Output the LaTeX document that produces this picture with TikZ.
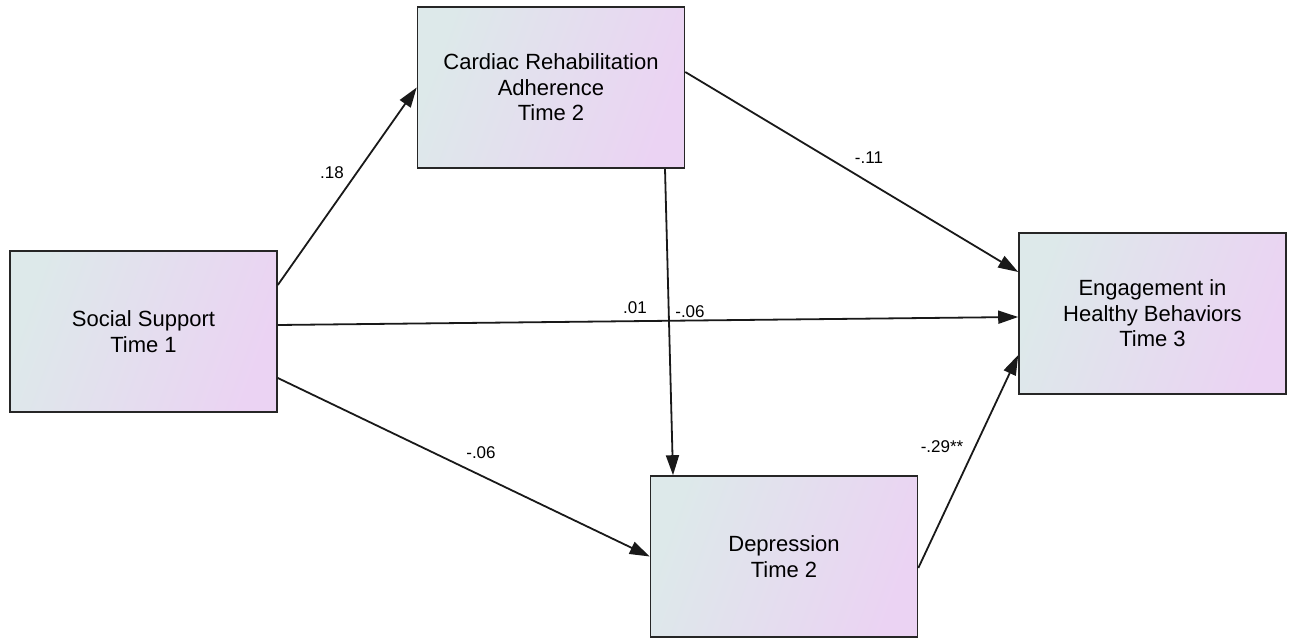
\documentclass[tikz,border=0pt]{standalone}
\usepackage{fontspec}
\setmainfont{Liberation Sans}
\usetikzlibrary{arrows.meta}
\definecolor{boxA}{HTML}{DDE9EA}
\definecolor{boxB}{HTML}{EBD3F3}
\begin{document}
\begin{tikzpicture}[x=1pt,y=-1pt,
  var/.style={draw=black!85, line width=1.6pt, inner sep=0pt,
    minimum width=267pt, minimum height=161pt, align=center,
    left color=boxA, right color=boxB, shading angle=70,
    font=\fontsize{22}{25.5}\selectfont},
  path/.style={draw=black!90, line width=1.8pt, -{Triangle[length=20pt,width=13pt]}},
  coef/.style={font=\fontsize{17}{18}\selectfont, inner sep=0pt}]
\useasboundingbox (0,0) rectangle (1290,639);
\node[var] (ss) at (143.5,331.5) {Social Support\\Time 1};
\node[var] (cr) at (551,87.5) {Cardiac Rehabilitation\\Adherence\\Time 2};
\node[var] (dep) at (784,556.5) {Depression\\Time 2};
\node[var] (eng) at (1152.5,313.5) {Engagement in\\Healthy Behaviors\\Time 3};
\draw[path] ([yshift=46.5pt]ss.east) -- (cr.west);
\draw[path] ([yshift=6.5pt]ss.east) -- ([yshift=-3.5pt]eng.west);
\draw[path] ([yshift=-46.5pt]ss.east) -- (dep.west);
\draw[path] ([yshift=15.5pt]cr.east) -- ([yshift=41.5pt]eng.west);
\draw[path] ([xshift=114pt]cr.south) -- ([xshift=-111pt]dep.north);
\draw[path] ([yshift=-11.5pt]dep.east) -- ([yshift=-41.5pt]eng.west);
\node[coef] (l1) at (332,173) {.18};
\node[coef] (l2) at (635,308) {.01};
\node[coef] (l3) at (690,312) {-.06};
\node[coef] (l4) at (869,158) {-.11};
\node[coef] (l5) at (481,453) {-.06};
\node[coef] (l6) at (942,447) {-.29**};
\end{tikzpicture}
\end{document}
